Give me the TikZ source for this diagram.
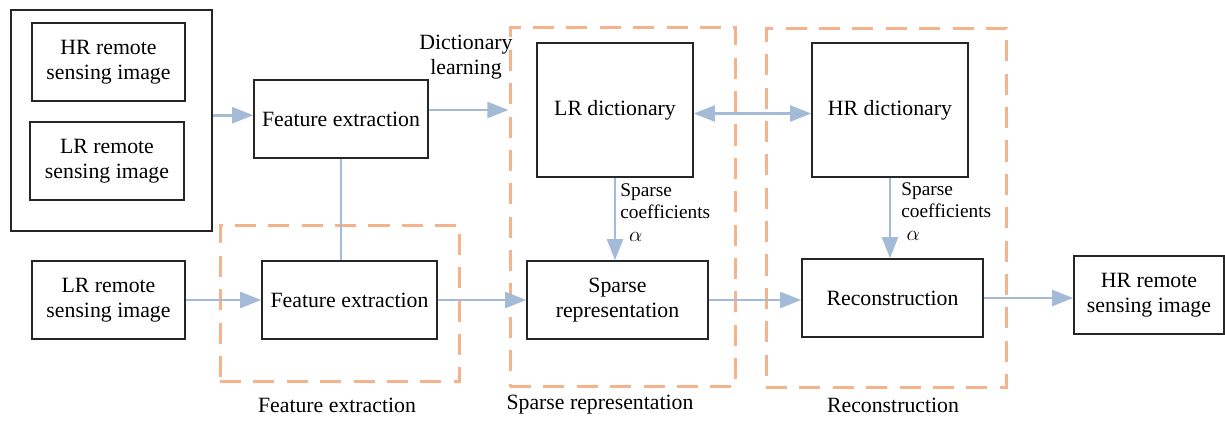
\documentclass[tikz,border=0pt]{standalone}
\usepackage{fontspec}
\setmainfont{Liberation Serif}
\usetikzlibrary{arrows.meta, positioning}

\definecolor{linkblue}{RGB}{163,187,215}
\definecolor{dashorange}{RGB}{246,178,138}

\begin{document}
\begin{tikzpicture}[
  x=0.02cm, y=-0.02cm,
  box/.style = {
    rectangle, draw=black!85, line width=0.8pt,
    inner sep=0pt, align=center,
    font=\fontsize{12.4}{14.2}\selectfont
  },
  groupbox/.style = {
    rectangle, draw=dashorange, line width=1.7pt,
    dash pattern=on 12pt off 7pt, inner sep=0pt
  },
  link/.style = {draw=linkblue, line width=1.6pt},
  arrow/.style = {link, -{Triangle[length=12pt, width=9pt]}},
  dblarrow/.style = {link, {Triangle[length=12pt, width=9pt]}-{Triangle[length=12pt, width=9pt]}},
  lbl/.style = {font=\fontsize{12.4}{14.2}\selectfont, align=center},
  coef/.style = {font=\fontsize{11}{13}\selectfont, align=left, anchor=north west, inner sep=0pt}
]
\useasboundingbox (0,0) rectangle (1225,420);
%--- GROUPS ---
\node[groupbox, minimum width=4.8cm,  minimum height=3.14cm] (gfeat)   at (340,303.5) {};
\node[groupbox, minimum width=4.52cm, minimum height=7.2cm]  (gsparse) at (623,207) {};
\node[groupbox, minimum width=4.82cm, minimum height=7.2cm]  (grecon)  at (886.5,208) {};
%--- TRAINING IMAGES ---
\node[box, minimum width=4.02cm, minimum height=4.42cm] (outer) at (111.5,120.5) {};
\node[box, minimum width=3.06cm, minimum height=1.56cm] (hrin)  at (108.5,62) {HR remote\\sensing image};
\node[box, minimum width=3.08cm, minimum height=1.56cm] (lrin)  at (107,161) {LR remote\\sensing image};
\node[box, minimum width=3.48cm, minimum height=1.56cm] (fe1)   at (341,119) {Feature extraction};
%--- INPUT ---
\node[box, minimum width=3.06cm, minimum height=1.56cm] (lrtest) at (108.5,300) {LR remote\\sensing image};
\node[box, minimum width=3.5cm,  minimum height=1.56cm] (fe2)    at (349.5,300) {Feature extraction};
%--- DICTIONARIES ---
\node[box, minimum width=3.12cm, minimum height=2.68cm] (ldict) at (615,110) {LR dictionary};
\node[box, minimum width=3.12cm, minimum height=2.68cm] (hdict) at (890,110) {HR dictionary};
\node[box, minimum width=3.62cm, minimum height=1.56cm] (srep)  at (617.5,300) {Sparse\\representation};
\node[box, minimum width=3.62cm, minimum height=1.56cm] (recon) at (892.5,298) {Reconstruction};
\node[box, minimum width=3.0cm,  minimum height=1.56cm] (hrout) at (1149,295) {HR remote\\sensing image};
%--- LABELS ---
\node[lbl] (dictlearn) at (466,57) {Dictionary\\learning};
\node[coef] (coefl) at (620,183) {Sparse\\coefficients\\\hspace{5pt}\large$\alpha$};
\node[coef] (coefh) at (901,182) {Sparse\\coefficients\\\hspace{3pt}\large$\alpha$};
\node[lbl] (lfeat)   at (337,405) {Feature extraction};
\node[lbl] (lsparse) at (600,405) {Sparse representation};
\node[lbl] (lrecon)  at (893,405) {Reconstruction};
%--- ARROWS ---
\draw[arrow] ([yshift=3pt]outer.east) -- ([yshift=3pt]outer.east -| fe1.west);
\draw[arrow] (fe1.east |- ldict.west) -- (gsparse.west |- ldict.west);
\draw[link] (fe1.south) -- (fe1.south |- fe2.north);
\draw[arrow] (lrtest) -- (fe2);
\draw[arrow] (fe2) -- (srep);
\draw[dblarrow] ([yshift=-2pt]ldict.east) -- ([yshift=-2pt]hdict.west);
\draw[arrow] (ldict.south) -- (ldict.south |- srep.north);
\draw[arrow] (hdict.south) -- (hdict.south |- recon.north);
\draw[arrow] (srep.east) -- (srep.east -| recon.west);
\draw[arrow] (recon.east) -- (recon.east -| hrout.west);
\end{tikzpicture}
\end{document}
